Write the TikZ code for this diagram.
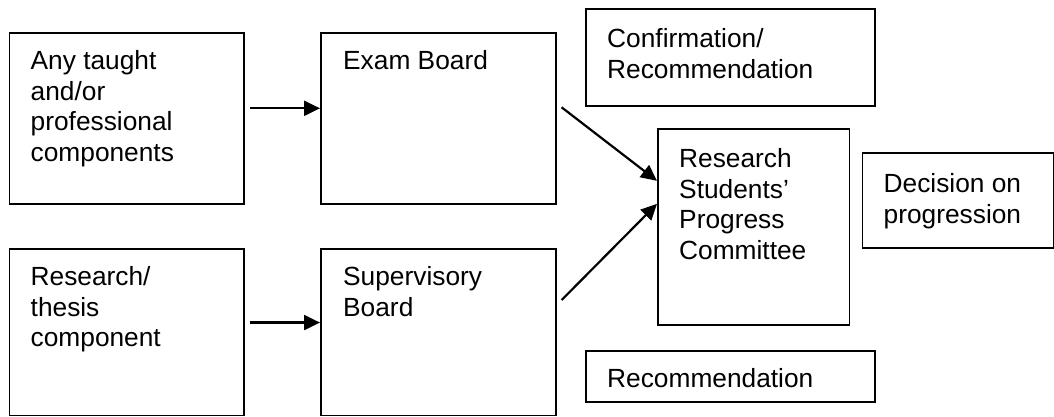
\documentclass[tikz,border=0pt]{standalone}
\usepackage{fontspec}
\setmainfont{Liberation Sans}
\usetikzlibrary{arrows.meta}
\begin{document}
\begin{tikzpicture}[x=1pt,y=-1pt,
  box/.style={draw=black,line width=1.6pt,inner sep=0pt,anchor=north west},
  txt/.style={anchor=north west,inner sep=0pt,align=left,
    font=\fontsize{26.3pt}{30.8pt}\selectfont},
  conn/.style={line width=2.2pt,-{Triangle[length=16pt,width=15pt]}}]
\useasboundingbox (0,0) rectangle (1054,416);
% boxes
\node[box,minimum width=234.5pt,minimum height=171pt] (anyt) at (8.5,32) {};
\node[box,minimum width=235pt,minimum height=171pt] (exam) at (320,32) {};
\node[box,minimum width=234.5pt,minimum height=166.5pt] (resth) at (8.5,248) {};
\node[box,minimum width=235pt,minimum height=166.5pt] (superv) at (320,248) {};
\node[box,minimum width=289pt,minimum height=97pt] (confirm) at (585,8) {};
\node[box,minimum width=191.5pt,minimum height=196pt] (rspc) at (657,128) {};
\node[box,minimum width=191pt,minimum height=95pt] (decision) at (861.5,152) {};
\node[box,minimum width=289pt,minimum height=51pt] (recomm) at (585,350) {};
% texts
\node[txt] (t1) at ([xshift=22pt,yshift=-18pt]anyt.north west) {Any taught\\and/or\\professional\\components};
\node[txt] (t2) at ([xshift=23pt,yshift=-18pt]exam.north west) {Exam Board};
\node[txt] (t3) at ([xshift=22pt,yshift=-18pt]resth.north west) {Research/\\thesis\\component};
\node[txt] (t4) at ([xshift=23pt,yshift=-18pt]superv.north west) {Supervisory\\Board};
\node[txt] (t5) at ([xshift=22pt,yshift=-20pt]confirm.north west) {Confirmation/\\Recommendation};
\node[txt] (t6) at ([xshift=22pt,yshift=-20pt]rspc.north west) {Research\\Students’\\Progress\\Committee};
\node[txt] (t7) at ([xshift=22pt,yshift=-21pt]decision.north west) {Decision on\\progression};
\node[txt] (t8) at ([xshift=22pt,yshift=-18pt]recomm.north west) {Recommendation};
% connectors
\draw[conn,shorten <=5pt] ([yshift=10pt]anyt.east) -- ([yshift=10pt]exam.west);
\draw[conn,shorten <=5pt] ([yshift=9.5pt]resth.east) -- ([yshift=9.5pt]superv.west);
\draw[conn] ([xshift=5pt,yshift=11pt]exam.east) -- ([yshift=46pt]rspc.west);
\draw[conn] ([xshift=5pt,yshift=32pt]superv.east) -- ([yshift=23pt]rspc.west);
\end{tikzpicture}
\end{document}
